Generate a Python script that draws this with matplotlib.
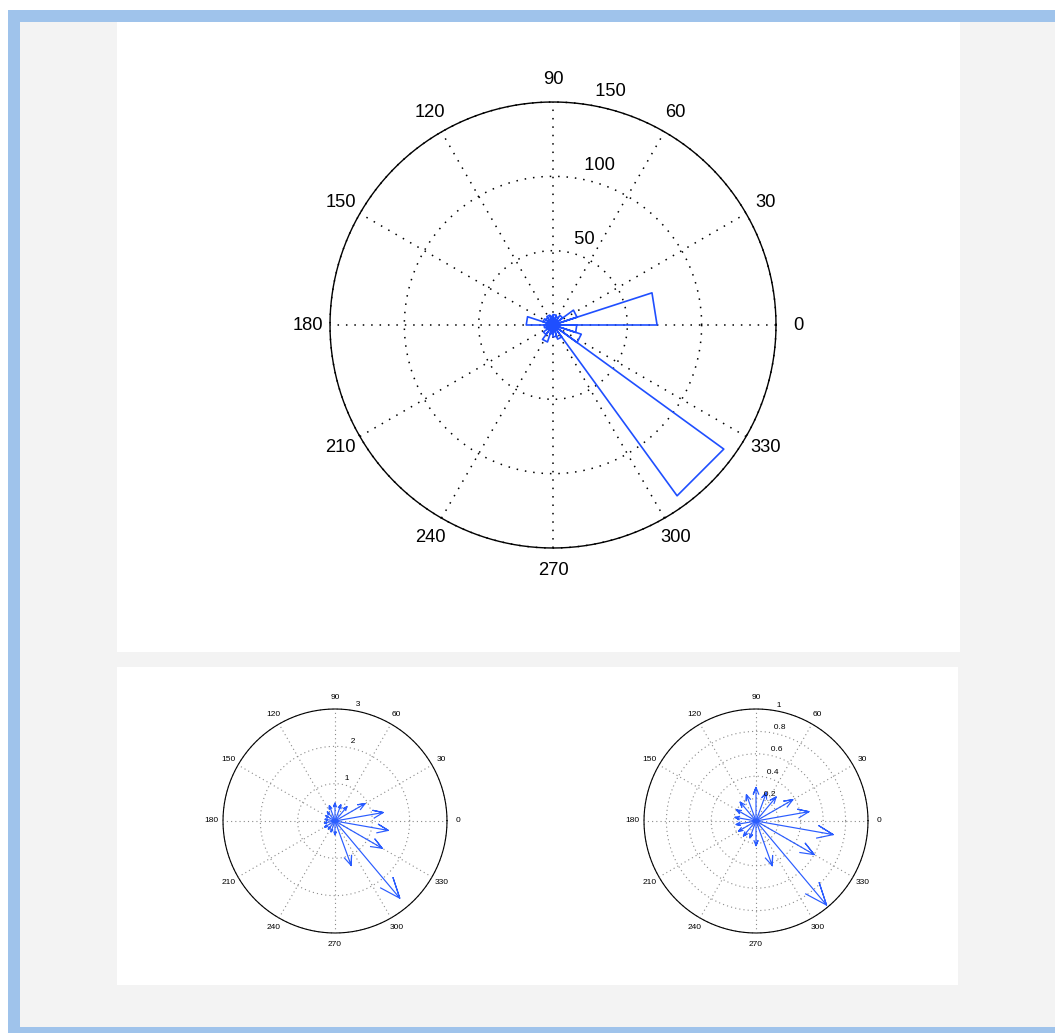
import numpy as np
import matplotlib.pyplot as plt
from matplotlib.patches import Rectangle

plt.rcParams['font.family'] = ['Liberation Sans', 'DejaVu Sans']

# rose histogram: 20 direction bins, 18 degrees wide
bin_edges_deg = [0, 18, 36, 54, 72, 90, 108, 126, 144, 162, 180,
                 198, 216, 234, 252, 270, 288, 306, 324, 342, 360]
bin_counts = [70, 17, 8, 6, 7, 6, 7, 6, 7, 18,
              6, 5, 8, 12, 6, 8, 10, 142, 20, 16]

# compass vectors (direction in degrees, magnitude)
arrow_dirs_deg = [10, 30, 50, 70, 90, 110, 130, 150, 170,
                  190, 210, 230, 250, 270, 290, 310, 330, 350]
arrow_len_left = [1.31, 0.93, 0.50, 0.46, 0.48, 0.44, 0.32, 0.28, 0.27,
                  0.29, 0.32, 0.28, 0.31, 0.37, 1.27, 2.70, 1.46, 1.45]
arrow_len_right = [0.48, 0.38, 0.28, 0.27, 0.30, 0.25, 0.22, 0.20, 0.19,
                   0.18, 0.18, 0.175, 0.16, 0.22, 0.425, 0.98, 0.60, 0.70]

W, H = 1055, 1034
fig = plt.figure(figsize=(W / 100, H / 100), dpi=100, facecolor='white')

# page background: blue frame, grey canvas, two white panels
bg = fig.add_axes([0, 0, 1, 1])
bg.set_xlim(0, W)
bg.set_ylim(H, 0)
bg.axis('off')
bg.add_patch(Rectangle((8, 10), W, 1023, color='#9fc3eb', lw=0))
bg.add_patch(Rectangle((20, 22), W, 1005, color='#f3f3f3', lw=0))
bg.add_patch(Rectangle((117, 22), 843, 630, color='white', lw=0))
bg.add_patch(Rectangle((117, 667), 841, 318, color='white', lw=0))


def polar_axes(cx, cy, rpix, rmax):
    ax = fig.add_axes([(cx - rpix) / W, (H - cy - rpix) / H,
                       2 * rpix / W, 2 * rpix / H])
    ax.set_xlim(-rmax, rmax)
    ax.set_ylim(-rmax, rmax)
    ax.axis('off')
    return ax


def polar_grid(ax, rmax, rinc, labels, fs, grid_color, dots, lw, edge_lw):
    t = np.linspace(0, 2 * np.pi, 361)
    c82, s82 = np.cos(np.radians(82)), np.sin(np.radians(82))
    for r, lab in zip(np.arange(rinc, rmax + rinc / 2, rinc), labels):
        ax.plot(r * np.cos(t), r * np.sin(t), color=grid_color, lw=lw,
                ls=dots, clip_on=False)
        ax.text((r + rinc / 20) * c82, (r + rinc / 20) * s82, '  ' + lab,
                fontsize=fs, ha='left', va='bottom')
    ax.plot(rmax * np.cos(t), rmax * np.sin(t), color='black', lw=edge_lw,
            clip_on=False)
    for k in range(1, 7):
        a = np.radians(30 * k)
        ax.plot([-rmax * np.cos(a), rmax * np.cos(a)],
                [-rmax * np.sin(a), rmax * np.sin(a)],
                color=grid_color, lw=lw, ls=dots, clip_on=False)
        rt = 1.1 * rmax
        ax.text(rt * np.cos(a), rt * np.sin(a), str(30 * k),
                fontsize=fs, ha='center', va='center')
        opp = '0' if k == 6 else str(30 * k + 180)
        ax.text(-rt * np.cos(a), -rt * np.sin(a), opp,
                fontsize=fs, ha='center', va='center')


def compass(ax, dirs, lengths, color, lw):
    shape = np.array([0, 1, 0.8, 1, 0.8]) + 1j * np.array([0, 0, 0.08, 0, -0.08])
    for d, m in zip(dirs, lengths):
        z = shape * m * np.exp(1j * np.radians(d))
        ax.plot(z.real, z.imag, color=color, lw=lw, clip_on=False)


# rose plot
ax1 = polar_axes(553, 325, 223, 150)
polar_grid(ax1, 150, 50, ['50', '100', '150'], 13.2, 'black',
           (0, (1, 4.5)), 1.1, 1.0)
xs, ys = [], []
for e1, e2, n in zip(bin_edges_deg[:-1], bin_edges_deg[1:], bin_counts):
    a1, a2 = np.radians(e1), np.radians(e2)
    xs += [0, n * np.cos(a1), n * np.cos(a2), 0]
    ys += [0, n * np.sin(a1), n * np.sin(a2), 0]
ax1.plot(xs, ys, color='#1f4fff', lw=1.2, clip_on=False)

# compass plots
ax2 = polar_axes(335, 821, 112, 3)
polar_grid(ax2, 3, 1, ['1', '2', '3'], 6, '#8a8a8a',
           (0, (1, 2.8)), 0.8, 0.8)
compass(ax2, arrow_dirs_deg, arrow_len_left, '#2a5cff', 0.85)

ax3 = polar_axes(756, 821, 112, 1)
polar_grid(ax3, 1, 0.2, ['0.2', '0.4', '0.6', '0.8', '1'], 6, '#8a8a8a',
           (0, (1, 2.8)), 0.8, 0.8)
compass(ax3, arrow_dirs_deg, arrow_len_right, '#2a5cff', 0.85)

fig.savefig('out.png', dpi=100, facecolor=fig.get_facecolor())
